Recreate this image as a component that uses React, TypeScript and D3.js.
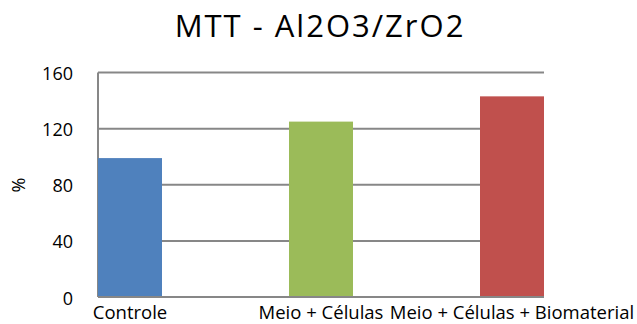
import React from "react";
import * as d3 from "d3";

const categories = ["Controle", "Meio + Células", "Meio + Células + Biomaterial"];
const values = [99, 125, 143];
const colors = ["#4F81BD", "#9BBB59", "#C0504D"];
const yTicks = [0, 40, 80, 120, 160];
const title = "MTT - Al2O3/ZrO2";
const yLabel = "%";

const W = 637;
const H = 324;
const FONT = "'Open Sans', sans-serif";

export default function App() {
  const plotLeft = 98;
  const plotRight = 544;
  const y = d3.scaleLinear().domain([0, 160]).range([297, 72.5]);
  const x = d3.scalePoint<string>().domain(categories).range([130, 512]);
  const barW = 64;

  return (
    <svg
      width={W}
      height={H}
      style={{ position: "absolute", left: 0, top: 0, background: "#fff" }}
      fontFamily={FONT}
    >
      <rect x={0} y={0} width={W} height={H} fill="#fff" />
      {yTicks.map((t) => (
        <line
          key={t}
          x1={plotLeft}
          x2={plotRight}
          y1={y(t)}
          y2={y(t)}
          stroke="#878787"
          strokeWidth={2}
        />
      ))}
      <line x1={plotLeft} x2={plotLeft} y1={y(160)} y2={y(0)} stroke="#878787" strokeWidth={2} />
      {categories.map((c, i) => (
        <rect
          key={c}
          x={(x(c) as number) - barW / 2}
          y={y(values[i])}
          width={barW}
          height={y(0) - y(values[i])}
          fill={colors[i]}
        />
      ))}
      <line x1={plotLeft} x2={plotRight} y1={y(0)} y2={y(0)} stroke="#878787" strokeWidth={2} />
      {yTicks.map((t) => (
        <text
          key={t}
          x={73}
          y={y(t) + 0.5}
          textAnchor="end"
          dominantBaseline="central"
          fontSize={18}
          fill="#000"
        >
          {t}
        </text>
      ))}
      {categories.map((c) => (
        <text
          key={c}
          x={x(c) as number}
          y={318.5}
          textAnchor="middle"
          fontSize={18.5}
          fill="#000"
        >
          {c}
        </text>
      ))}
      <text
        transform={`translate(25,185) rotate(-90)`}
        textAnchor="middle"
        fontSize={18}
        fill="#000"
      >
        {yLabel}
      </text>
      <text x={320} y={36.5} textAnchor="middle" fontSize={31} letterSpacing={2} fill="#000">
        {title}
      </text>
    </svg>
  );
}
